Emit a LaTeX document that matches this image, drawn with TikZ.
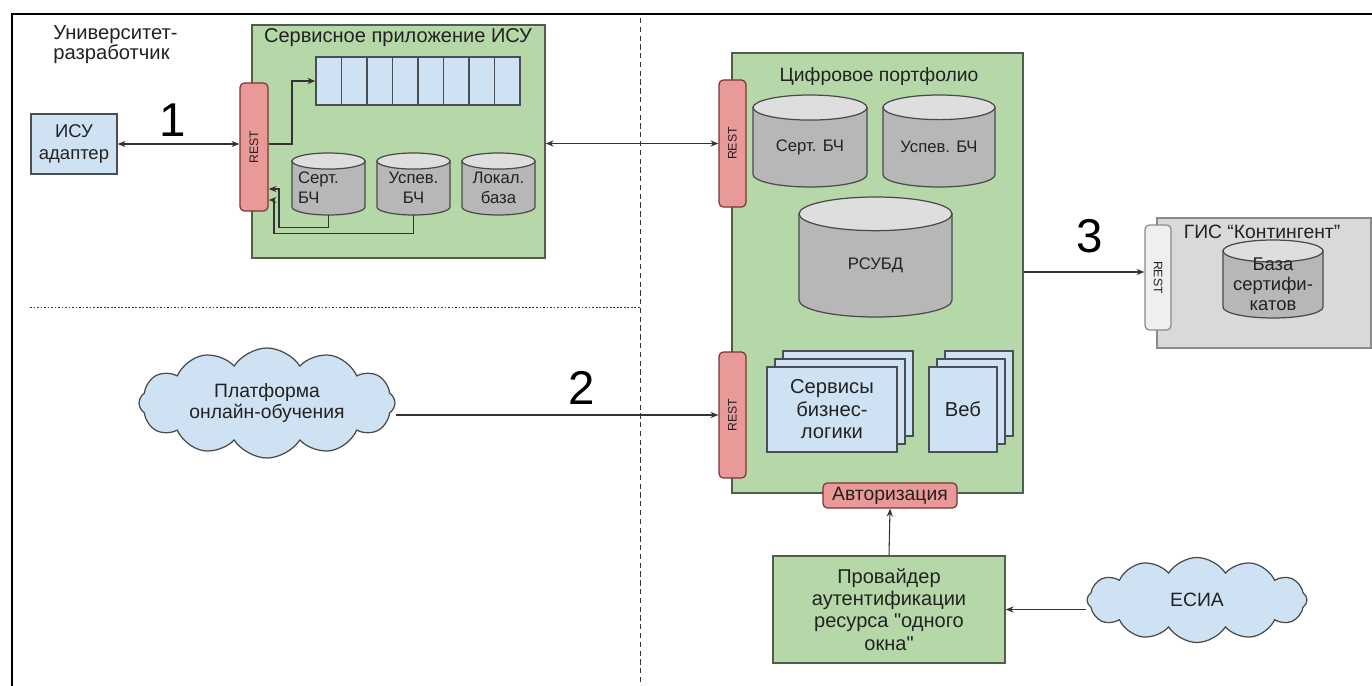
\documentclass[tikz,border=0pt]{standalone}
\usepackage{fontspec}
\setmainfont{Liberation Sans}[Ligatures=TeXOff]
\usepackage{graphicx}
\usetikzlibrary{shapes.symbols,arrows.meta}
\newcommand\pu{0.02cm}
\definecolor{gfill}{HTML}{B6D7A8}
\definecolor{gdraw}{HTML}{4F5F4A}
\definecolor{bfill}{HTML}{CFE2F3}
\definecolor{bdraw}{HTML}{4A4F55}
\definecolor{rfill}{HTML}{EA9999}
\definecolor{rdraw}{HTML}{7A3535}
\definecolor{cbody}{HTML}{B7B7B7}
\definecolor{ctop}{HTML}{DEDEDE}
\definecolor{cdraw}{HTML}{4A4A4A}
\definecolor{gisfill}{HTML}{D9D9D9}
\definecolor{gydraw}{HTML}{8A8A8A}
\definecolor{restg}{HTML}{EFEFEF}
\definecolor{txt}{HTML}{222222}
\definecolor{ln}{HTML}{333333}
\tikzset{
 gbox/.style={draw=gdraw, fill=gfill, line width=0.8pt, inner sep=0pt, text=txt},
 bbox/.style={draw=bdraw, fill=bfill, line width=0.7pt, inner sep=0pt, text=txt},
 restbox/.style={draw=rdraw, fill=rfill, rounded corners=2.5pt, line width=0.7pt, inner sep=0pt, text=txt},
 grest/.style={draw=gydraw, fill=restg, rounded corners=2.5pt, line width=0.7pt, inner sep=0pt, text=txt},
 cylshape/.style={draw=cdraw, line width=0.7pt},
 cyltext/.style={text=txt, font=\fontsize{9.5}{11.5}\selectfont, align=center, inner sep=0pt},
 cylhold/.style={inner sep=0pt},
 conn/.style={draw=ln, line width=0.6pt},
 arr/.style={-{Stealth[length=4.5pt,width=3.5pt]}},
 arrboth/.style={{Stealth[length=4.5pt,width=3.5pt]}-{Stealth[length=4.5pt,width=3.5pt]}},
 ttl/.style={text=txt, inner sep=0pt},
 num/.style={font=\fontsize{27}{30}\selectfont, inner sep=0pt, text=black},
 cloudbox/.style={cloud, cloud puffs=12, cloud puff arc=115, cloud ignores aspect, draw=cdraw, fill=bfill, line width=0.7pt, inner sep=0pt, align=center, text=txt},
}
% name, cx, cy, w, h, text options, text
\newcommand\dbc[7]{%
 \pgfmathsetmacro\cyry{0.11*#4}%
 \pgfmathsetmacro\cyrx{#4/2}%
 \filldraw[cylshape, fill=cbody] (#2-\cyrx, #3-#5/2+\cyry) -- (#2-\cyrx, #3+#5/2-\cyry)
   arc[start angle=180, end angle=360, x radius=\cyrx*\pu, y radius=\cyry*\pu]
   -- (#2+\cyrx, #3-#5/2+\cyry) -- cycle;
 \filldraw[cylshape, fill=ctop] (#2, #3-#5/2+\cyry) ellipse[x radius=\cyrx*\pu, y radius=\cyry*\pu];
 \node[cylhold, minimum width=#4*\pu, minimum height=#5*\pu] (#1) at (#2,#3) {};
 \node[cyltext, #6] (#1-t) at (#2, #3+\cyry/2) {#7};
}
\begin{document}
\begin{tikzpicture}[x=0.02cm, y=-0.02cm, font=\fontsize{11}{12.5}\selectfont]
\useasboundingbox (0,0) rectangle (1372,686);
\fill[white] (0,0) rectangle (1372,686);
\draw[line width=1.7pt, black] (12,686) -- (12,14) -- (1372,14);

% separators
\draw[ln, dash pattern=on 3pt off 2pt, line width=0.5pt] (640,18) -- (640,686);
\draw[ln, dash pattern=on 1pt off 1pt, line width=0.5pt] (30,307) -- (640,307);

% left top
\node[ttl, align=left, anchor=north west, font=\fontsize{11.5}{11.8}\selectfont] (univ) at (53,25) {Университет-\\разработчик};
\node[bbox, minimum width=86*\pu, minimum height=60*\pu, align=center, font=\fontsize{10.5}{12}\selectfont] (isu) at (74,144) {ИСУ\\адаптер};
\node[num] (n1) at (173,120) {1};

% service application
\node[gbox, minimum width=293*\pu, minimum height=233*\pu] (svc) at (398.5,141.5) {};
\node[ttl, font=\fontsize{11.4}{13}\selectfont] (svct) at (398,38) {Сервисное приложение ИСУ};
\node[bbox, minimum width=204*\pu, minimum height=48*\pu] (queue) at (418,81) {};
\foreach \i in {1,...,7} \draw[bdraw, line width=0.7pt] (316+\i*25.5,57) -- (316+\i*25.5,105);
\dbc{sc1}{328.5}{184}{73}{62}{align=left, xshift=-10*\pu}{Серт.\\БЧ}
\dbc{sc2}{413.5}{184}{73}{62}{}{Успев.\\БЧ}
\dbc{sc3}{498.5}{184}{73}{62}{}{Локал.\\база}
\node[restbox, minimum width=28*\pu, minimum height=128*\pu] (rest1) at (254,147) {\rotatebox{90}{\fontsize{7}{8}\selectfont REST}};

% digital portfolio
\node[gbox, minimum width=291*\pu, minimum height=440*\pu] (port) at (877.5,273) {};
\node[ttl] (portt) at (879,77) {Цифровое портфолио};
\dbc{pc1}{810}{141}{114}{92}{}{Серт. БЧ}
\dbc{pc2}{939}{141}{112}{92}{}{Успев. БЧ}
\dbc{pdb}{875.5}{257}{153}{120}{}{РСУБД}
\foreach \d in {16,8} \draw[bbox] (767+\d,367-\d) rectangle ++(130,85);
\node[bbox, minimum width=130*\pu, minimum height=85*\pu, align=center, font=\fontsize{11.5}{12.8}\selectfont] (bl) at (832,409.5) {Сервисы\\бизнес-\\логики};
\foreach \d in {16,8} \draw[bbox] (929+\d,367-\d) rectangle ++(68,85);
\node[bbox, minimum width=68*\pu, minimum height=85*\pu, font=\fontsize{11.5}{12.8}\selectfont] (web) at (963,409.5) {Веб};
\node[restbox, minimum width=27*\pu, minimum height=127*\pu] (restp1) at (732.5,143.5) {\rotatebox{90}{\fontsize{7}{8}\selectfont REST}};
\node[restbox, minimum width=27*\pu, minimum height=126*\pu] (restp2) at (732.5,415) {\rotatebox{90}{\fontsize{7}{8}\selectfont REST}};
\node[restbox, minimum width=134*\pu, minimum height=25*\pu] (auth) at (890,495.5) {Авторизация};

% provider and ESIA
\node[gbox, minimum width=232*\pu, minimum height=107*\pu, align=center, font=\fontsize{11.4}{12.6}\selectfont] (prov) at (889,609.5) {Провайдер\\аутентификации\\ресурса "одного\\окна"};
\node[cloudbox, minimum width=220*\pu, minimum height=85*\pu] (esia) at (1197,600) {ЕСИА};

% platform
\node[cloudbox, minimum width=256*\pu, minimum height=110*\pu] (plat) at (267,403) {Платформа\\онлайн-обучения};
\node[num] (n2) at (582,388) {2};

% GIS
\node[draw=gydraw, fill=gisfill, line width=0.7pt, minimum width=214*\pu, minimum height=130*\pu, inner sep=0pt] (gis) at (1264,283) {};
\node[ttl] (gist) at (1262,232) {ГИС “Контингент”};
\dbc{gdb}{1273}{279}{100}{78}{font=\fontsize{10.5}{11.5}\selectfont}{База\\сертифи-\\катов}
\node[grest, minimum width=26*\pu, minimum height=105*\pu] (gisrest) at (1158,277.5) {\rotatebox{-90}{\fontsize{7}{8}\selectfont REST}};
\node[num] (n3) at (1090,236) {3};

% connectors
\draw[conn, arrboth] (isu.east) -- (isu.east -| rest1.west);
\draw[conn, arr] (rest1.east |- 0,144) -| (292,81) -- (queue.west);
\draw[conn, arr] (sc1.south) -- ++(0,12) -| (279,189) -- (rest1.east |- 0,189);
\draw[conn, arr] (sc2.south) -- ++(0,18) -| (274,200) -- (rest1.east |- 0,200);
\draw[conn, arrboth] (svc.east |- restp1.west) -- (restp1.west);
\draw[conn, arr] (plat.east |- restp2.west) -- (restp2.west);
\draw[conn, arr] (port.east |- 0,272) -- (gisrest.west |- 0,272);
\draw[conn, arr] (prov.north) -- (auth.south);
\draw[conn, arr] (esia.west |- prov.east) -- (prov.east);
\end{tikzpicture}
\end{document}
